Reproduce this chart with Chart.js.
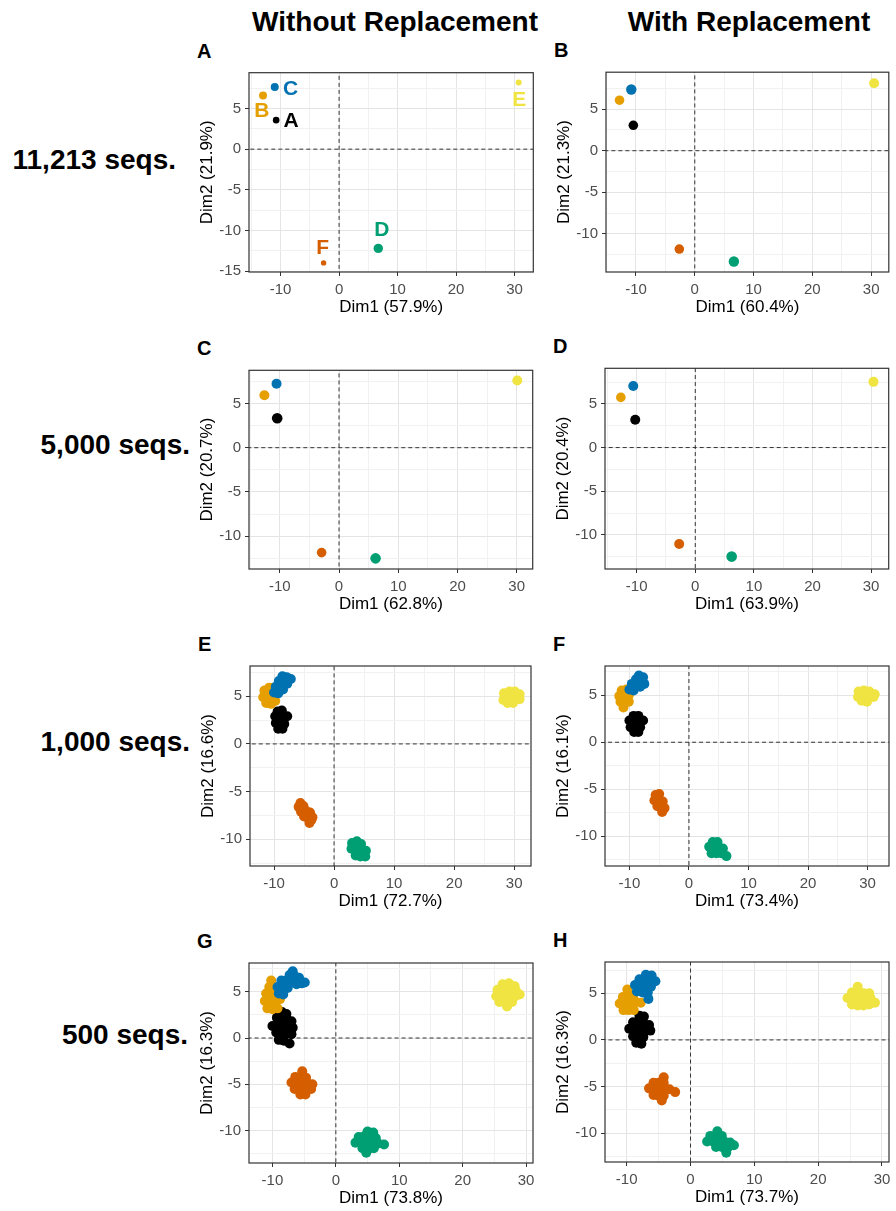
<!DOCTYPE html>
<html>
<head>
<meta charset="utf-8">
<script src="https://cdn.jsdelivr.net/npm/chart.js@4.4.1/dist/chart.umd.min.js"></script>
<style>
  body { margin: 0; background: #fff; width: 896px; height: 1211px; position: relative; overflow: hidden;
         font-family: "Liberation Sans", Arial, sans-serif; }
  .txt { position: absolute; font-weight: bold; color: #000; white-space: nowrap; line-height: 1; }
  canvas { position: absolute; }
</style>
</head>
<body>
<script>
// groups and colours (Okabe-Ito)
const groups = ['A', 'B', 'C', 'D', 'E', 'F'];
const groupColors = ['#000000', '#E69F00', '#0072B2', '#009E73', '#F0E442', '#D55E00'];

const colTitles = ['Without Replacement', 'With Replacement'];
const rowLabels = ['11,213 seqs.', '5,000 seqs.', '1,000 seqs.', '500 seqs.'];
const panelLetters = ['A', 'B', 'C', 'D', 'E', 'F', 'G', 'H'];
const dim1Pct = ['57.9', '60.4', '62.8', '63.9', '72.7', '73.4', '73.8', '73.7'];
const dim2Pct = ['21.9', '21.3', '20.7', '20.4', '16.6', '16.1', '16.3', '16.3'];

// axis ranges
const xLimits = [[-15.4, 33.2], [-15.1, 33.0], [-15.2, 32.7], [-15.4, 33.0],
                 [-14.0, 32.8], [-14.1, 33.6], [-13.7, 31.1], [-13.4, 31.1]];
const yLimits = [[-15.1, 9.4], [-14.6, 9.45], [-13.7, 8.74], [-13.9, 9.07],
                 [-12.8, 8.17], [-13.15, 8.1], [-13.5, 8.1], [-13.1, 8.36]];

// text labels of panel A, one per group
const labelPosA = [[-8.2, 3.4], [-13.2, 4.7], [-8.3, 7.4], [7.3, -10.0], [30.8, 6.0], [-2.8, -12.2]];

// points per panel, in group order A..F
const ptsA = [[[-10.76, 3.57]], [[-13.0, 6.59]], [[-11.0, 7.63]], [[6.7, -12.2]], [[30.7, 8.19]], [[-2.65, -13.98]]];
const ptsB = [[[-10.45, 3.06]], [[-12.8, 6.08]], [[-10.8, 7.37]], [[6.65, -13.33]], [[30.5, 8.12]], [[-2.63, -11.84]]];
const ptsC = [[[-10.44, 3.33]], [[-12.6, 5.93]], [[-10.55, 7.22]], [[6.17, -12.5]], [[30.1, 7.59]], [[-2.94, -11.85]]];
const ptsD = [[[-10.24, 3.19]], [[-12.7, 5.74]], [[-10.58, 7.04]], [[6.21, -12.48]], [[30.4, 7.52]], [[-2.74, -11.04]]];
const ptsE = [
  [[-9.4,3.4],[-8.7,3.5],[-9.8,2.9],[-9.1,2.9],[-8.4,2.8],[-7.8,2.9],[-9.7,2.2],[-9.0,2.1],[-8.3,2.1],[-9.3,1.6],[-8.6,1.6]],
  [[-11.6,5.6],[-10.8,5.9],[-10.1,5.9],[-11.8,4.9],[-11.0,5.0],[-10.2,5.0],[-9.6,5.3],[-11.3,4.3],[-10.5,4.2],[-9.8,4.5]],
  [[-10.0,5.4],[-9.3,5.3],[-9.7,6.0],[-9.0,5.9],[-8.5,5.7],[-9.2,6.6],[-8.5,6.4],[-7.8,6.3],[-8.6,7.1],[-7.9,7.0],[-7.2,6.8]],
  [[3.0,-10.4],[3.8,-10.2],[4.5,-10.5],[2.9,-11.0],[3.7,-11.1],[4.5,-11.1],[5.3,-11.2],[3.6,-11.7],[4.4,-11.8],[5.2,-11.8]],
  [[28.3,5.3],[29.2,5.5],[30.1,5.5],[30.9,5.2],[28.2,4.6],[29.1,4.7],[30.0,4.7],[30.9,4.7],[28.9,4.3],[29.8,4.3]],
  [[-5.9,-6.6],[-5.1,-6.5],[-5.6,-6.2],[-5.5,-7.1],[-4.7,-7.0],[-5.3,-6.9],[-4.0,-7.2],[-5.0,-7.6],[-4.5,-7.4],[-4.3,-7.8],
   [-3.6,-7.7],[-3.8,-8.0],[-4.1,-8.3]]
];
const ptsF = [
  [[-9.3,2.8],[-8.5,2.8],[-10.0,2.3],[-9.2,2.2],[-8.4,2.2],[-7.7,2.3],[-9.8,1.6],[-9.0,1.5],[-8.2,1.6],[-9.2,1.1],[-8.5,1.1]],
  [[-11.3,5.5],[-10.5,5.6],[-11.7,4.9],[-10.9,4.9],[-10.1,5.0],[-11.5,4.3],[-10.8,4.2],[-10.1,4.3],[-11.0,3.7]],
  [[-10.0,5.6],[-9.3,5.5],[-9.6,6.2],[-8.9,6.1],[-8.2,5.9],[-8.9,6.7],[-8.2,6.6],[-7.5,6.2],[-8.4,7.1],[-7.7,6.9]],
  [[4.0,-10.6],[4.8,-10.6],[3.4,-11.1],[4.2,-11.2],[5.0,-11.2],[5.7,-11.3],[3.8,-11.8],[4.6,-11.8],[5.4,-11.8],[6.3,-12.1]],
  [[28.5,5.4],[29.4,5.5],[30.3,5.4],[31.2,5.1],[28.4,4.8],[29.3,4.8],[30.2,4.8],[31.0,4.8],[29.0,4.4],[29.9,4.3]],
  [[-5.6,-5.6],[-5.0,-5.5],[-5.8,-6.2],[-5.1,-6.2],[-4.4,-6.3],[-5.3,-6.8],[-4.6,-6.9],[-4.1,-7.0],[-4.5,-7.4],
   [-5.4,-5.9],[-4.8,-6.6]]
];
const ptsG = [
  [[-8.5,2.8],[-7.8,2.6],[-9.3,2.2],[-8.5,2.0],[-7.7,2.0],[-7.0,1.8],[-10.0,1.3],[-9.2,1.4],[-8.4,1.3],[-7.6,1.2],[-6.8,1.1],
   [-9.4,0.6],[-8.6,0.5],[-7.8,0.5],[-7.0,0.4],[-9.0,-0.2],[-8.2,-0.3],[-7.3,-0.6]],
  [[-10.2,6.2],[-10.5,5.5],[-9.6,5.3],[-11.0,4.8],[-10.2,4.7],[-9.3,4.6],[-11.2,4.0],[-10.4,3.9],[-9.6,3.9],[-8.8,4.2],
   [-10.8,3.2],[-10.0,3.1],[-9.2,3.2]],
  [[-9.0,4.8],[-8.3,4.7],[-9.2,5.5],[-8.4,5.5],[-7.6,5.4],[-8.6,6.2],[-7.8,6.2],[-7.0,6.0],[-6.2,5.8],[-5.4,5.9],
   [-7.3,6.8],[-6.5,6.7],[-5.8,6.5],[-4.9,6.0],[-6.8,7.2]],
  [[5.0,-10.1],[5.9,-10.2],[3.6,-10.7],[4.5,-10.6],[5.4,-10.7],[6.3,-10.8],[3.1,-11.3],[4.0,-11.3],[4.9,-11.3],[5.8,-11.4],
   [6.7,-11.4],[7.6,-11.5],[4.2,-11.9],[5.1,-12.0],[6.0,-11.9],[4.8,-12.4]],
  [[26.3,5.8],[27.3,5.9],[28.2,5.6],[25.5,5.2],[26.4,5.2],[27.4,5.2],[28.4,5.1],[25.3,4.5],[26.3,4.5],[27.3,4.5],[28.3,4.5],
   [29.0,4.7],[25.8,3.9],[26.8,3.8],[27.8,3.9],[27.0,3.4]],
  [[-5.3,-3.6],[-6.4,-4.2],[-5.6,-4.2],[-4.7,-4.3],[-7.0,-4.8],[-6.2,-4.8],[-5.3,-4.9],[-4.5,-4.9],[-3.7,-5.0],[-6.5,-5.5],
   [-5.7,-5.6],[-4.8,-5.6],[-3.9,-5.5],[-5.6,-6.1],[-4.8,-6.1]]
];
const ptsH = [
  [[-8.0,2.6],[-7.3,2.5],[-9.0,1.9],[-8.2,1.9],[-7.4,1.8],[-6.5,1.6],[-9.6,1.2],[-8.8,1.2],[-8.0,1.1],[-7.2,1.0],[-6.3,1.0],
   [-9.0,0.4],[-8.2,0.4],[-7.4,0.3],[-8.5,-0.3],[-7.7,-0.4]],
  [[-9.9,5.4],[-10.6,4.6],[-9.8,4.7],[-9.0,4.8],[-11.1,3.9],[-10.3,4.0],[-9.5,3.9],[-8.6,4.1],[-7.8,4.0],[-10.5,3.2],
   [-9.7,3.2],[-8.9,3.2]],
  [[-7.0,7.0],[-6.1,6.9],[-8.0,6.5],[-7.2,6.4],[-6.3,6.4],[-5.5,6.3],[-8.7,5.9],[-7.9,5.9],[-7.0,5.8],[-6.2,5.7],
   [-8.4,5.2],[-7.5,5.1],[-6.7,5.1],[-6.6,4.4]],
  [[4.2,-9.8],[3.1,-10.3],[4.0,-10.4],[4.9,-10.3],[2.6,-10.9],[3.5,-10.9],[4.4,-10.9],[5.3,-10.9],[6.2,-11.0],[4.0,-11.5],
   [4.9,-11.5],[5.8,-11.6],[6.8,-11.3],[5.6,-12.1]],
  [[26.2,5.7],[25.3,5.1],[26.2,5.0],[27.1,5.0],[28.0,5.0],[24.6,4.5],[25.5,4.4],[26.4,4.4],[27.3,4.4],[28.2,4.5],[28.9,4.0],
   [25.3,3.8],[26.2,3.7],[27.1,3.7],[28.0,3.8]],
  [[-4.2,-4.0],[-5.8,-4.6],[-5.0,-4.6],[-4.2,-4.6],[-6.5,-5.2],[-5.7,-5.3],[-4.9,-5.2],[-4.1,-5.2],[-3.3,-5.3],[-2.4,-5.6],
   [-5.8,-5.9],[-5.0,-6.0],[-4.2,-6.0],[-4.5,-6.5]]
];
const panels = [ptsA, ptsB, ptsC, ptsD, ptsE, ptsF, ptsG, ptsH];

// ---- layout / style (not data) ----
const FONT = '"Liberation Sans", Arial, sans-serif';
const plotBoxes = [[249, 69, 537, 272], [606, 68, 893, 272], [249, 366, 537, 569], [605, 364, 893, 569],
                   [250, 662, 535, 866], [605, 662, 893, 866], [249, 959, 537, 1163], [605, 958, 893, 1162]];
// marker radius for the four single-point panels; blob panels use BLOB_R
const radii = [[3.3, 4, 4, 4.7, 3, 2.7], [4.8, 4.8, 5.2, 5.2, 5, 4.8], [5.3, 5, 5, 5.3, 5, 4.8], [5, 4.8, 5, 5.3, 5, 5]];
const BLOB_R = 5;
const AXIS_W = 55, AXIS_H = 46, PAD = 1;

function addText(str, x, y, size, anchor) {
  const d = document.createElement('div');
  d.className = 'txt';
  d.textContent = str;
  d.style.fontSize = size + 'px';
  d.style.left = x + 'px';
  d.style.top = y + 'px';
  d.style.transform = anchor === 'right' ? 'translate(-100%,-50%)' : anchor === 'left' ? 'translate(0,-50%)' : 'translate(-50%,-50%)';
  document.body.appendChild(d);
}

addText(colTitles[0], 395, 22, 28);
addText(colTitles[1], 749, 22, 28);
const rowRight = [176, 190, 190, 188];
const rowY = [160, 445, 742, 1035];
rowLabels.forEach((s, i) => addText(s, rowRight[i], rowY[i], 28, 'right'));

const frame = {
  id: 'frame',
  afterDraw(chart) {
    const { ctx, chartArea: a } = chart;
    ctx.save();
    ctx.strokeStyle = '#333333';
    ctx.lineWidth = 1.2;
    ctx.strokeRect(a.left, a.top, a.right - a.left, a.bottom - a.top);
    ctx.restore();
  }
};

const groupLabels = {
  id: 'groupLabels',
  afterDatasetsDraw(chart, args, opts) {
    if (!opts.show) return;
    const { ctx, scales } = chart;
    ctx.save();
    ctx.font = 'bold 21px ' + FONT;
    ctx.textAlign = 'center';
    ctx.textBaseline = 'middle';
    labelPosA.forEach(([x, y], g) => {
      ctx.fillStyle = groupColors[g];
      ctx.fillText(groups[g], scales.x.getPixelForValue(x), scales.y.getPixelForValue(y));
    });
    ctx.restore();
  }
};

const isMajorX = v => Math.abs(v % 10) < 1e-9;
const isMajorY = v => Math.abs(v % 5) < 1e-9;

panels.forEach((pts, p) => {
  const [l, t, r, b] = plotBoxes[p];
  const cv = document.createElement('canvas');
  cv.width = (r - l) + AXIS_W + PAD;
  cv.height = (b - t) + AXIS_H + PAD;
  cv.style.left = (l - AXIS_W) + 'px';
  cv.style.top = (t - PAD) + 'px';
  document.body.appendChild(cv);

  addText(panelLetters[p], l - 52, t - 18, 20, 'left');

  const rad = p < 4 ? radii[p] : null;
  const datasets = [];
  // later groups drawn on top: dataset 0 is drawn last in Chart.js
  for (let g = groups.length - 1; g >= 0; g--) {
    const pr = rad ? rad[g] : BLOB_R;
    datasets.push({
      label: groups[g],
      data: pts[g].map(([x, y]) => ({ x, y })),
      backgroundColor: groupColors[g],
      pointRadius: pr,
      pointBorderWidth: 0,
      pointHoverRadius: pr
    });
  }
  const dashed = { showLine: true, borderColor: '#333333', borderWidth: 1, borderDash: [4, 3], pointRadius: 0 };
  datasets.push(Object.assign({ data: [{ x: -1000, y: 0 }, { x: 1000, y: 0 }] }, dashed));
  datasets.push(Object.assign({ data: [{ x: 0, y: -1000 }, { x: 0, y: 1000 }] }, dashed));

  new Chart(cv, {
    type: 'scatter',
    data: { datasets },
    plugins: [frame, groupLabels],
    options: {
      responsive: false,
      animation: false,
      devicePixelRatio: 1,
      layout: { padding: { top: PAD, right: PAD, left: 0, bottom: 0 } },
      plugins: { legend: { display: false }, tooltip: { enabled: false }, groupLabels: { show: p === 0 } },
      scales: {
        x: {
          type: 'linear', min: xLimits[p][0], max: xLimits[p][1],
          afterFit: s => { s.height = AXIS_H; s.paddingLeft = 0; s.paddingRight = 0; s.paddingTop = 0; s.paddingBottom = 0; },
          ticks: {
            stepSize: 5, includeBounds: false, autoSkip: false, maxRotation: 0, padding: 5,
            color: '#4d4d4d', font: { size: 15, family: FONT },
            callback: v => isMajorX(v) ? String(v) : ''
          },
          grid: {
            color: c => c.tick && isMajorX(c.tick.value) ? '#e4e4e4' : '#f1f1f1',
            lineWidth: 1, tickLength: 4,
            tickColor: c => c.tick && isMajorX(c.tick.value) ? '#333333' : 'rgba(0,0,0,0)'
          },
          border: { display: false },
          title: { display: true, text: 'Dim1 (' + dim1Pct[p] + '%)', color: '#000', font: { size: 17, family: FONT }, padding: { top: 0, bottom: 0 } }
        },
        y: {
          type: 'linear', min: yLimits[p][0], max: yLimits[p][1],
          afterFit: s => { s.width = AXIS_W; s.paddingLeft = 0; s.paddingRight = 0; s.paddingTop = 0; s.paddingBottom = 0; },
          ticks: {
            stepSize: 2.5, includeBounds: false, autoSkip: false, padding: 4,
            color: '#4d4d4d', font: { size: 15, family: FONT },
            callback: v => isMajorY(v) ? String(v) : ''
          },
          grid: {
            color: c => c.tick && isMajorY(c.tick.value) ? '#e4e4e4' : '#f1f1f1',
            lineWidth: 1, tickLength: 4,
            tickColor: c => c.tick && isMajorY(c.tick.value) ? '#333333' : 'rgba(0,0,0,0)'
          },
          border: { display: false },
          title: { display: true, text: 'Dim2 (' + dim2Pct[p] + '%)', color: '#000', font: { size: 17, family: FONT }, padding: { top: 3, bottom: 0 } }
        }
      }
    }
  });
});
</script>
</body>
</html>
